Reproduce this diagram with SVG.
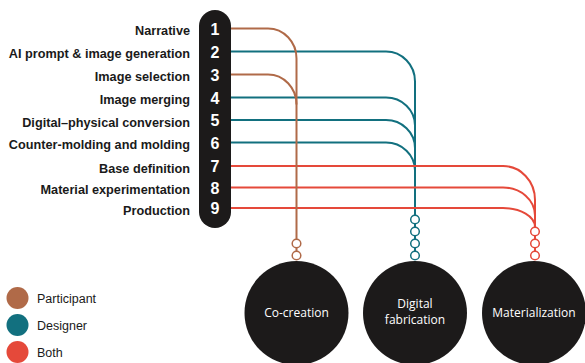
<svg xmlns="http://www.w3.org/2000/svg" width="585" height="363" viewBox="0 0 585 363">
<style>
.lbl{font-family:"Liberation Sans",Arial,sans-serif;font-weight:bold;font-size:12.7px;fill:#1a1a1a;text-anchor:end}
.num{font-family:"Liberation Sans",Arial,sans-serif;font-weight:bold;font-size:16px;fill:#fff;text-anchor:middle}
.leg{font-family:"Liberation Sans",Arial,sans-serif;font-size:12.5px;fill:#1a1a1a}
.ctx{font-family:"Open Sans","DejaVu Sans",sans-serif;font-size:12px;fill:#fff;text-anchor:middle}
.ln{fill:none;stroke-width:2}
.br{stroke:#b06a48}
.te{stroke:#12707f}
.rd{stroke:#e5493a}
.dot{fill:#fff;stroke-width:1.5}
.big{fill:#1c1a1a}
</style>
<rect width="585" height="363" fill="#fff"/>
<g id="steps">
<rect x="199" y="10" width="32" height="218" rx="16" fill="#1c1a1a"/>
<text class="lbl" x="190" y="35">Narrative</text>
<text class="lbl" x="190" y="58">AI prompt &amp; image generation</text>
<text class="lbl" x="190" y="81">Image selection</text>
<text class="lbl" x="190" y="104">Image merging</text>
<text class="lbl" x="190" y="126.5">Digital–physical conversion</text>
<text class="lbl" x="190" y="149">Counter-molding and molding</text>
<text class="lbl" x="190" y="172.5">Base definition</text>
<text class="lbl" x="190" y="194">Material experimentation</text>
<text class="lbl" x="190" y="214.5">Production</text>
<text class="num" x="215" y="34.5">1</text>
<text class="num" x="215" y="57.5">2</text>
<text class="num" x="215" y="80.5">3</text>
<text class="num" x="215" y="103.5">4</text>
<text class="num" x="215" y="126">5</text>
<text class="num" x="215" y="148.5">6</text>
<text class="num" x="215" y="172">7</text>
<text class="num" x="215" y="193.5">8</text>
<text class="num" x="215" y="214">9</text>
</g>
<g id="connectors">
<path class="ln te" d="M231 51.5H386A29 30 0 0 1 415 81.5V258"/>
<path class="ln te" d="M231 97.5H386A29 28 0 0 1 415 125.5"/>
<path class="ln te" d="M231 120H386A29 28 0 0 1 415 148"/>
<path class="ln te" d="M231 142.5H386A29 28 0 0 1 415 170.5"/>
<path class="ln rd" d="M231 166H503A32 34 0 0 1 535 200V258"/>
<path class="ln rd" d="M231 187.5H503A32 28 0 0 1 535 215.5"/>
<path class="ln rd" d="M231 208H503A32 19 0 0 1 535 227"/>
<path class="ln br" d="M231 28.5H268A28.5 30 0 0 1 296.5 58.5V258"/>
<path class="ln br" d="M231 74.5H268A28.5 30 0 0 1 296.5 104.5"/>
<circle class="dot br" cx="296.5" cy="243.5" r="4.3"/>
<circle class="dot br" cx="296.5" cy="255.5" r="4.3"/>
<circle class="dot te" cx="415" cy="219.5" r="4.3"/>
<circle class="dot te" cx="415" cy="231.5" r="4.3"/>
<circle class="dot te" cx="415" cy="243.5" r="4.3"/>
<circle class="dot te" cx="415" cy="255.5" r="4.3"/>
<circle class="dot rd" cx="535" cy="231.5" r="4.3"/>
<circle class="dot rd" cx="535" cy="243.5" r="4.3"/>
<circle class="dot rd" cx="535" cy="255.5" r="4.3"/>
</g>
<g id="co-creation">
<circle class="big" cx="296.5" cy="313" r="52"/>
<text class="ctx" x="296.5" y="317">Co-creation</text>
</g>
<g id="digital-fabrication">
<circle class="big" cx="415" cy="313" r="52"/>
<text class="ctx" x="415" y="308">Digital</text>
<text class="ctx" x="415" y="324">fabrication</text>
</g>
<g id="materialization">
<circle class="big" cx="534" cy="313" r="52"/>
<text class="ctx" x="534" y="317">Materialization</text>
</g>
<g id="legend">
<circle cx="17.5" cy="298" r="11" fill="#b06a48"/>
<circle cx="17.5" cy="325" r="11" fill="#12707f"/>
<circle cx="17.5" cy="352" r="11" fill="#e5493a"/>
<text class="leg" x="37" y="302.5">Participant</text>
<text class="leg" x="37" y="329.5">Designer</text>
<text class="leg" x="37" y="356.5">Both</text>
</g>
</svg>
